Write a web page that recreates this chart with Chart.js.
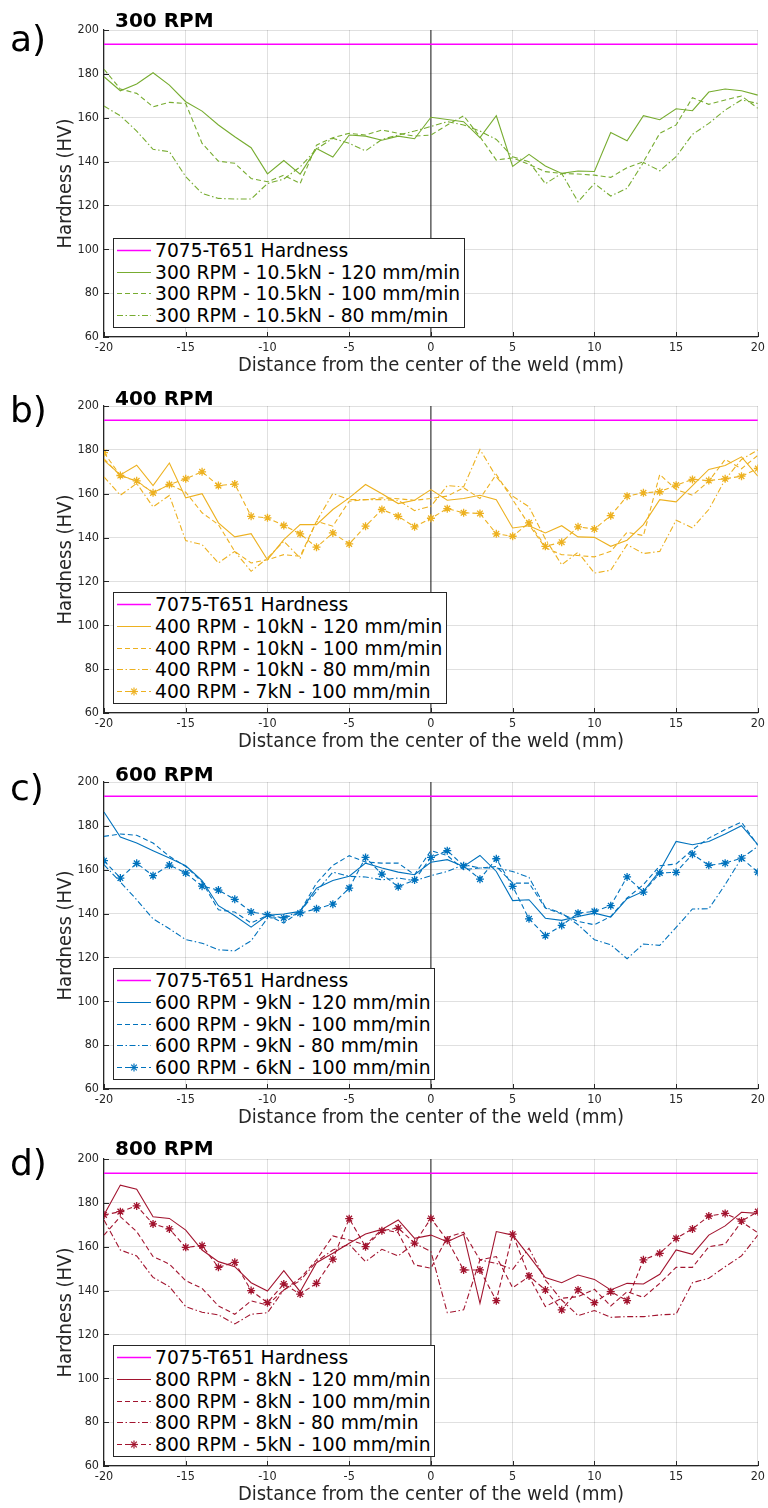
<!DOCTYPE html>
<html>
<head>
<meta charset="utf-8">
<script src="https://cdn.jsdelivr.net/npm/chart.js@4.4.1/dist/chart.umd.min.js"></script>
<style>
  html, body { margin: 0; padding: 0; background: #fff; }
  body { width: 768px; height: 1508px; position: relative; overflow: hidden; font-family: "DejaVu Sans", sans-serif; color: #000; }
  .panel { position: absolute; left: 0; width: 768px; height: 378px; }
  .panel canvas { position: absolute; left: 0; top: 0; }
  .tag { position: absolute; left: 10px; font-size: 36px; line-height: 36px; white-space: nowrap; }
  .title { position: absolute; left: 115px; font-size: 20px; font-weight: bold; line-height: 20px; white-space: nowrap; }
  .legend { position: absolute; left: 113px; bottom: 50px; background: #fff; border: 1px solid #262626; padding: 1px 4px 1px 2px; font-size: 18.7px; }
  .legend .row { display: flex; align-items: center; height: 21.6px; white-space: nowrap; }
  .legend svg { width: 36px; height: 21px; margin-right: 3px; flex: none; }
</style>
</head>
<body>
<script>
// distance from the weld centre (mm), one reading per mm
const distance = [-20, -19, -18, -17, -16, -15, -14, -13, -12, -11, -10, -9, -8, -7, -6, -5, -4, -3, -2, -1, 0,
  1, 2, 3, 4, 5, 6, 7, 8, 9, 10, 11, 12, 13, 14, 15, 16, 17, 18, 19, 20];
const distanceRange = [-20, 20];
const hardnessRange = [60, 200];
const distanceTicks = 5;
const hardnessTicks = 20;

const baseHardness = 193.5;   // 7075-T651 parent metal
const weldCenter = 0;
const baseLabel = '7075-T651 Hardness';
const xTitle = 'Distance from the center of the weld (mm)';
const yTitle = 'Hardness (HV)';

// a) 300 RPM
const rpm300_120 = [178.7, 172.3, 175.4, 180.5, 174.9, 167.3, 163.0, 156.7, 151.3, 146.3, 134.4, 140.5, 134.3, 146.0, 142.1, 152.1, 151.6, 149.7, 151.6, 150.4, 160.2,
  159.2, 158.2, 150.9, 160.9, 137.8, 143.3, 138.0, 134.6, 135.7, 135.5, 153.2, 149.5, 160.9, 159.1, 164.1, 163.2, 171.7, 173.1, 172.3, 170.3];
const rpm300_100 = [182.1, 173.1, 171.1, 165.0, 167.0, 166.5, 148.3, 140.2, 139.2, 132.3, 130.8, 133.8, 130.0, 147.5, 150.9, 152.9, 152.1, 154.4, 152.9, 151.6, 152.1,
  156.7, 160.9, 151.3, 140.7, 141.7, 138.7, 135.4, 134.6, 134.3, 133.8, 132.8, 137.2, 139.9, 152.9, 156.7, 169.1, 166.1, 168.1, 169.9, 164.3];
const rpm300_80 = [165.3, 160.9, 153.9, 145.6, 144.5, 133.1, 125.5, 123.2, 122.9, 122.9, 130.0, 132.0, 137.6, 145.7, 150.6, 148.3, 144.9, 150.1, 152.1, 153.9, 156.0,
  158.2, 156.7, 153.9, 150.1, 142.2, 139.9, 129.9, 134.6, 121.7, 130.0, 124.3, 127.8, 139.6, 135.8, 142.2, 152.4, 157.4, 163.5, 168.1, 166.5];

// b) 400 RPM
const rpm400_120 = [175.2, 168.6, 173.0, 163.7, 174.0, 158.1, 160.0, 146.7, 140.3, 141.8, 129.9, 139.1, 145.9, 145.9, 152.8, 158.1, 164.2, 160.0, 155.5, 157.0, 161.9,
  157.0, 157.8, 159.3, 157.3, 144.4, 145.4, 142.1, 145.4, 140.3, 140.1, 136.0, 138.8, 145.9, 157.3, 156.3, 163.7, 171.1, 172.9, 176.8, 168.0];
const rpm400_100 = [175.9, 168.3, 165.7, 160.4, 164.2, 160.7, 151.3, 145.9, 133.7, 128.4, 129.9, 132.2, 131.5, 147.4, 145.2, 156.6, 157.3, 158.1, 157.7, 157.0, 157.8,
  158.9, 162.7, 157.8, 168.8, 157.3, 145.9, 135.3, 132.2, 131.8, 131.2, 133.7, 142.4, 140.9, 168.8, 161.9, 159.3, 165.7, 175.6, 171.4, 177.5];
const rpm400_80 = [167.7, 159.3, 164.7, 154.0, 159.2, 138.6, 136.8, 128.4, 133.7, 124.6, 130.7, 138.3, 130.7, 147.4, 160.1, 157.3, 157.3, 157.3, 157.0, 152.3, 154.3,
  163.7, 163.1, 180.2, 167.7, 158.9, 154.0, 139.4, 127.6, 133.3, 123.8, 125.1, 136.8, 132.7, 133.7, 147.9, 144.4, 152.8, 166.5, 175.6, 179.9];
const rpm400_7kN = [178.7, 168.3, 165.9, 160.4, 164.2, 166.8, 170.0, 163.7, 164.4, 149.7, 149.0, 145.5, 141.7, 135.6, 142.1, 137.1, 145.2, 152.8, 149.7, 144.9, 148.8,
  153.2, 151.3, 151.0, 141.7, 140.6, 146.7, 136.0, 137.9, 144.9, 143.9, 150.0, 158.9, 160.4, 160.9, 163.9, 166.5, 166.0, 166.8, 168.0, 171.5];

// c) 600 RPM
const rpm600_120 = [186.3, 174.9, 172.2, 168.7, 165.3, 161.8, 155.0, 143.6, 139.0, 133.8, 139.2, 139.8, 141.0, 151.6, 155.1, 157.0, 163.0, 160.8, 158.9, 157.7, 163.4,
  164.6, 161.5, 166.5, 159.2, 145.9, 146.3, 137.9, 136.9, 138.7, 140.2, 138.4, 146.8, 150.1, 159.5, 172.9, 171.4, 172.9, 176.3, 180.1, 171.4];
const rpm600_100 = [175.2, 176.3, 175.7, 172.2, 166.1, 161.5, 154.4, 141.7, 140.7, 135.7, 139.2, 135.7, 141.0, 153.9, 162.0, 166.4, 163.5, 163.0, 163.0, 157.7, 168.7,
  166.5, 160.0, 160.8, 161.5, 153.9, 153.9, 142.5, 139.8, 136.4, 134.9, 138.7, 147.1, 153.2, 161.8, 162.6, 169.1, 174.4, 178.3, 181.7, 171.1];
const rpm600_80 = [162.3, 154.4, 146.3, 137.6, 133.1, 128.1, 126.5, 123.5, 123.0, 127.6, 137.9, 138.3, 141.0, 150.1, 158.9, 157.0, 156.7, 155.4, 156.2, 155.0, 157.3,
  159.2, 162.3, 160.8, 160.8, 159.2, 156.5, 142.8, 140.2, 134.9, 128.1, 125.8, 119.4, 126.1, 125.5, 133.7, 142.1, 142.2, 153.2, 165.3, 170.6];
const rpm600_6kN = [164.1, 156.2, 162.9, 157.3, 162.1, 158.5, 152.5, 150.7, 146.5, 140.7, 139.5, 138.0, 140.2, 142.2, 144.3, 151.6, 165.6, 158.0, 152.2, 155.3, 165.6,
  168.7, 161.8, 155.7, 165.0, 152.4, 137.6, 129.9, 134.6, 140.2, 141.0, 143.6, 156.7, 149.8, 158.5, 158.8, 167.1, 162.0, 163.0, 165.3, 158.9];

// d) 800 RPM
const rpm800_120 = [174.5, 188.1, 186.2, 173.7, 172.9, 167.6, 158.5, 153.2, 150.9, 143.6, 139.8, 149.1, 139.5, 152.7, 157.0, 161.6, 165.8, 167.9, 172.2, 163.8, 165.3,
  162.3, 165.7, 134.2, 166.9, 165.3, 155.8, 145.9, 143.6, 147.1, 145.1, 140.3, 143.3, 143.0, 147.4, 158.5, 156.5, 165.3, 169.5, 175.7, 175.2];
const rpm800_100 = [165.3, 173.7, 166.9, 155.5, 152.1, 144.5, 141.0, 133.0, 129.2, 135.3, 133.4, 140.3, 145.6, 154.0, 164.9, 163.1, 160.8, 167.9, 166.4, 151.7, 150.2,
  164.3, 166.6, 154.0, 155.5, 141.3, 146.4, 132.7, 136.5, 137.2, 140.6, 133.0, 139.5, 136.9, 143.3, 150.6, 150.6, 160.0, 161.2, 171.4, 166.4];
const rpm800_80 = [172.2, 158.5, 155.8, 146.0, 141.8, 132.7, 130.1, 128.9, 124.8, 129.2, 129.9, 140.3, 144.5, 153.2, 158.5, 161.1, 153.2, 158.8, 155.8, 161.6, 157.8,
  129.9, 131.2, 154.0, 152.4, 149.7, 159.3, 144.8, 135.7, 128.6, 130.9, 127.8, 128.1, 128.1, 128.9, 129.3, 143.6, 145.6, 150.9, 155.8, 165.3];
const rpm800_5kN = [174.5, 176.0, 178.6, 170.4, 168.1, 159.7, 160.5, 150.6, 152.9, 140.0, 134.5, 143.0, 138.4, 143.3, 154.3, 172.8, 160.0, 167.3, 168.5, 161.6, 172.9,
  163.0, 149.4, 149.4, 135.4, 165.7, 146.7, 140.3, 131.2, 140.3, 134.5, 139.5, 135.4, 154.0, 157.0, 163.8, 168.1, 174.0, 175.2, 171.7, 176.0];

const panels = [
  { tag: 'a)', title: '300 RPM', color: '#77AC30', top: 0, tagTop: 21, titleTop: 10, series: [
    { label: '300 RPM - 10.5kN - 120 mm/min', values: rpm300_120, style: 'solid' },
    { label: '300 RPM - 10.5kN - 100 mm/min', values: rpm300_100, style: 'dashed' },
    { label: '300 RPM - 10.5kN - 80 mm/min', values: rpm300_80, style: 'dashdot' },
  ]},
  { tag: 'b)', title: '400 RPM', color: '#EDB120', top: 376, tagTop: 16, titleTop: 12, series: [
    { label: '400 RPM - 10kN - 120 mm/min', values: rpm400_120, style: 'solid' },
    { label: '400 RPM - 10kN - 100 mm/min', values: rpm400_100, style: 'dashed' },
    { label: '400 RPM - 10kN - 80 mm/min', values: rpm400_80, style: 'dashdot' },
    { label: '400 RPM - 7kN - 100 mm/min', values: rpm400_7kN, style: 'dashed', marker: true },
  ]},
  { tag: 'c)', title: '600 RPM', color: '#0072BD', top: 752, tagTop: 18, titleTop: 12, series: [
    { label: '600 RPM - 9kN - 120 mm/min', values: rpm600_120, style: 'solid' },
    { label: '600 RPM - 9kN - 100 mm/min', values: rpm600_100, style: 'dashed' },
    { label: '600 RPM - 9kN - 80 mm/min', values: rpm600_80, style: 'dashdot' },
    { label: '600 RPM - 6kN - 100 mm/min', values: rpm600_6kN, style: 'dashed', marker: true },
  ]},
  { tag: 'd)', title: '800 RPM', color: '#A2142F', top: 1129, tagTop: 16, titleTop: 9, series: [
    { label: '800 RPM - 8kN - 120 mm/min', values: rpm800_120, style: 'solid' },
    { label: '800 RPM - 8kN - 100 mm/min', values: rpm800_100, style: 'dashed' },
    { label: '800 RPM - 8kN - 80 mm/min', values: rpm800_80, style: 'dashdot' },
    { label: '800 RPM - 5kN - 100 mm/min', values: rpm800_5kN, style: 'dashed', marker: true },
  ]},
];

const dashes = { solid: [], dashed: [5, 3], dashdot: [6, 2.5, 1.5, 2.5] };
const axisColor = '#262626';
const gridColor = 'rgba(0, 0, 0, 0.12)';
const limitColor = '#ff00ff';
const narrow = '"DejaVu Sans Condensed", "Liberation Sans Narrow", "DejaVu Sans"';
const tickFont = { family: narrow, size: 12.5 };
const axisTitleFont = { family: narrow, size: 20 };

// MATLAB style tick marks pointing into the plot
const inwardTicks = {
    id: 'inwardTicks',
    afterDraw(chart) {
        const { ctx, chartArea, scales } = chart;
        ctx.save();
        ctx.strokeStyle = axisColor;
        ctx.lineWidth = 1;
        ctx.beginPath();
        scales.x.ticks.forEach((t) => {
            const px = Math.round(scales.x.getPixelForValue(t.value)) + 0.5;
            ctx.moveTo(px, chartArea.bottom);
            ctx.lineTo(px, chartArea.bottom - 5);
        });
        scales.y.ticks.forEach((t) => {
            const py = Math.round(scales.y.getPixelForValue(t.value)) + 0.5;
            ctx.moveTo(chartArea.left, py);
            ctx.lineTo(chartArea.left + 5, py);
        });
        ctx.stroke();
        ctx.restore();
    }
};

const sampleSvg = (color, style, marker, width) => {
    let s = `<svg viewBox="0 0 36 21"><line x1="1" y1="10.5" x2="35" y2="10.5" stroke="${color}" stroke-width="${width}" stroke-dasharray="${dashes[style].join(' ') || 'none'}"/>`;
    if (marker) {
        const r = 4;
        s += `<g stroke="${color}" stroke-width="1.2">` +
            `<line x1="${18 - r}" y1="10.5" x2="${18 + r}" y2="10.5"/><line x1="18" y1="${10.5 - r}" x2="18" y2="${10.5 + r}"/>` +
            `<line x1="${18 - r * 0.7}" y1="${10.5 - r * 0.7}" x2="${18 + r * 0.7}" y2="${10.5 + r * 0.7}"/>` +
            `<line x1="${18 - r * 0.7}" y1="${10.5 + r * 0.7}" x2="${18 + r * 0.7}" y2="${10.5 - r * 0.7}"/></g>`;
    }
    return s + '</svg>';
};

const buildPanel = (p) => {
    const box = document.createElement('div');
    box.className = 'panel';
    box.style.top = p.top + 'px';
    box.innerHTML = `<canvas width="768" height="378"></canvas>
        <div class="tag" style="top:${p.tagTop}px">${p.tag}</div>
        <div class="title" style="top:${p.titleTop}px">${p.title}</div>`;
    document.body.appendChild(box);

    const datasets = [{
        label: baseLabel,
        data: distanceRange.map((x) => ({ x, y: baseHardness })),
        borderColor: limitColor, borderWidth: 1.4, pointRadius: 0,
    }];
    p.series.forEach((s) => {
        datasets.push({
            label: s.label,
            data: distance.map((x, i) => ({ x, y: s.values[i] })),
            borderColor: p.color,
            borderWidth: 1.1,
            borderDash: dashes[s.style],
            pointRadius: s.marker ? 4 : 0,
            pointStyle: 'star',
            pointBorderColor: p.color,
            pointBorderWidth: 1.3,
            tension: 0,
        });
    });
    datasets.push({
        label: 'center',
        data: hardnessRange.map((y) => ({ x: weldCenter, y })),
        borderColor: '#1a1a1a', borderWidth: 1, pointRadius: 0,
    });

    new Chart(box.querySelector('canvas'), {
        type: 'line',
        data: { datasets },
        options: {
            responsive: false,
            animation: false,
            layout: { padding: { top: 30, right: 7, left: 0, bottom: 0 } },
            plugins: { legend: { display: false }, tooltip: { enabled: false } },
            scales: {
                x: {
                    type: 'linear', min: distanceRange[0], max: distanceRange[1],
                    ticks: { stepSize: distanceTicks, color: axisColor, font: tickFont, padding: 3 },
                    grid: { color: gridColor, drawTicks: false },
                    border: { color: axisColor, width: 1.2 },
                    title: { display: true, text: xTitle, color: axisColor, font: axisTitleFont, padding: { top: 0, bottom: 0 } },
                    afterFit: (s) => { s.height = 41; },
                },
                y: {
                    type: 'linear', min: hardnessRange[0], max: hardnessRange[1],
                    ticks: { stepSize: hardnessTicks, color: axisColor, font: tickFont, padding: 5 },
                    grid: { color: gridColor, drawTicks: false },
                    border: { color: axisColor, width: 1.2 },
                    title: { display: true, text: yTitle, color: axisColor, font: axisTitleFont, padding: { top: 54, bottom: 0 } },
                    afterFit: (s) => { s.width = 104; },
                },
            },
        },
        plugins: [inwardTicks],
    });

    // legend box over the lower-left of the plot
    const legend = document.createElement('div');
    legend.className = 'legend';
    datasets.filter((d) => d.label !== 'center').forEach((d, i) => {
        const s = i === 0 ? { style: 'solid', marker: false } : p.series[i - 1];
        const row = document.createElement('div');
        row.className = 'row';
        row.innerHTML = sampleSvg(d.borderColor, s.style, s.marker, d.borderWidth) + `<span>${d.label}</span>`;
        legend.appendChild(row);
    });
    box.appendChild(legend);
};

panels.forEach(buildPanel);
</script>
</body>
</html>
